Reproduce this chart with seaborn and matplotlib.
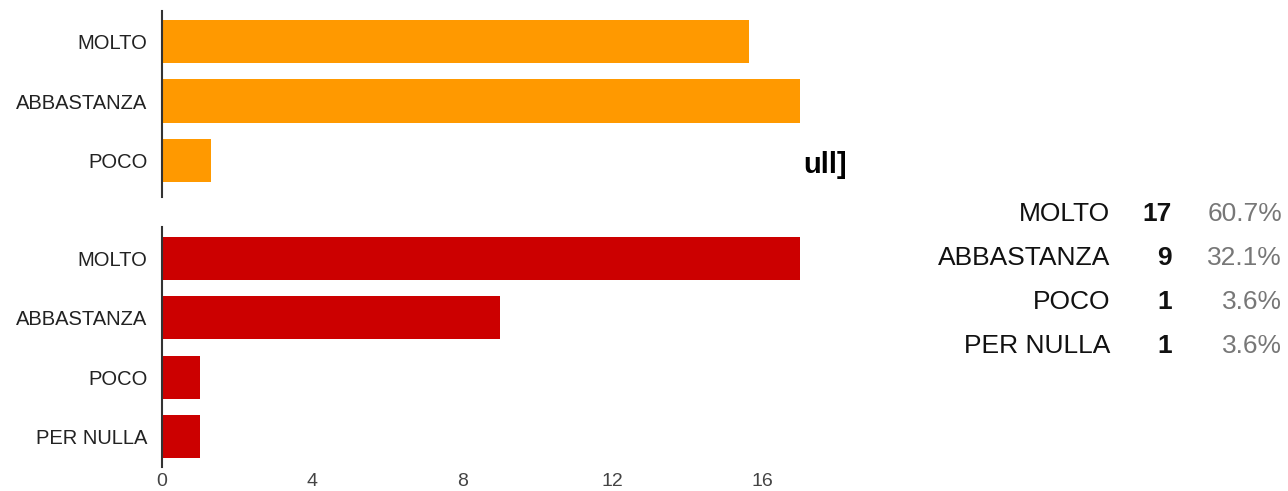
import matplotlib
matplotlib.use("Agg")
import matplotlib.pyplot as plt
import seaborn as sns
import pandas as pd

# ---- data ----
categories_top = ["MOLTO", "ABBASTANZA", "POCO"]
values_top = [15.65, 17, 1.3]
categories_bottom = ["MOLTO", "ABBASTANZA", "POCO", "PER NULLA"]
values_bottom = [17, 9, 1, 1]
table_labels = ["MOLTO", "ABBASTANZA", "POCO", "PER NULLA"]
table_counts = [17, 9, 1, 1]
table_pcts = ["60.7%", "32.1%", "3.6%", "3.6%"]
xticks = [0, 4, 8, 12, 16]

sns.set_theme(style="white")
plt.rcParams['font.family'] = ['Liberation Sans', 'DejaVu Sans']

W, H = 1288, 491
fig = plt.figure(figsize=(W / 100, H / 100), dpi=100)

def ax_rect(x0, x1, y0, y1):
    return [x0 / W, 1 - y1 / H, (x1 - x0) / W, (y1 - y0) / H]

ax1 = fig.add_axes(ax_rect(162, 800, 11, 197))
ax2 = fig.add_axes(ax_rect(162, 800, 227, 467))

df_top = pd.DataFrame({"cat": categories_top, "val": values_top})
df_bot = pd.DataFrame({"cat": categories_bottom, "val": values_bottom})

sns.barplot(data=df_top, x="val", y="cat", ax=ax1, color="#FF9900",
            saturation=1, width=0.725, orient="h")
sns.barplot(data=df_bot, x="val", y="cat", ax=ax2, color="#CC0000",
            saturation=1, width=0.725, orient="h")

for ax in (ax1, ax2):
    ax.set_xlim(0, 17)
    ax.set_xlabel("")
    ax.set_ylabel("")
    for s in ("top", "right", "bottom"):
        ax.spines[s].set_visible(False)
    ax.spines["left"].set_color("#333333")
    ax.spines["left"].set_linewidth(1.5)
    ax.tick_params(axis="y", length=0, pad=10.5, labelsize=14.5, labelcolor="#222222")
    ax.tick_params(axis="x", length=0, labelsize=14, labelcolor="#444444", pad=4)
    for p in ax.patches:
        p.set_linewidth(0)

ax1.set_ylim(2.61, -0.51)
ax2.set_ylim(3.51, -0.53)
ax1.set_xticks([])
ax2.set_xticks(xticks)
ax2.set_xticklabels([str(t) for t in xticks])

# clipped icon text
fig.text(803 / W, 1 - 165 / H, "ull]", fontsize=21, fontweight="bold",
         color="black", ha="left", va="center")

row_y = [214, 258, 302, 346]
for lab, cnt, pct, y in zip(table_labels, table_counts, table_pcts, row_y):
    yy = 1 - y / H
    fig.text(1110 / W, yy, lab, fontsize=19, color="#111111", ha="right", va="center")
    fig.text(1172 / W, yy, str(cnt), fontsize=19, fontweight="bold", color="#111111",
             ha="right", va="center")
    fig.text(1282 / W, yy, pct, fontsize=19, color="#777777", ha="right", va="center")

fig.savefig("out.png", dpi=100)
